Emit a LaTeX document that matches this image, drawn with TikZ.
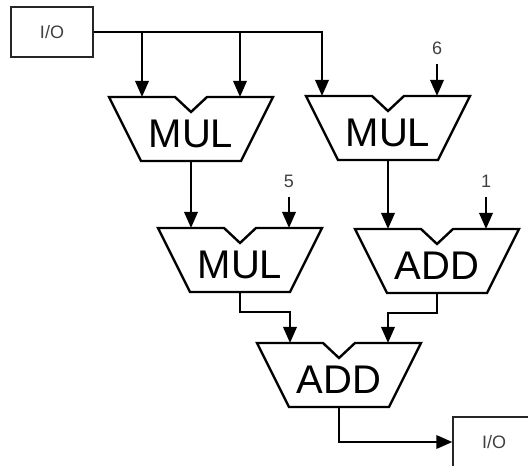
\documentclass[tikz,border=0pt]{standalone}
\usepackage{fontspec}
\setmainfont{Liberation Sans}
\usepackage{tikz}
\usetikzlibrary{arrows.meta,positioning,calc}

\tikzset{
  alu/.pic={
    \draw[line width=1.8pt, line join=miter] (-82,0) -- (-16,0) -- (0,15) -- (16,0) -- (82,0) -- (50,64) -- (-50,64) -- cycle;
    \node[font=\fontsize{30}{30}\selectfont, inner sep=0pt] (-op) at (0,37) {#1};
    \coordinate (-l) at (-49,0);
    \coordinate (-r) at (49,0);
    \coordinate (-o) at (0,64);
  }
}

\begin{document}
\begin{tikzpicture}[x=0.75pt, y=-0.75pt, >={Triangle[length=12pt,width=10pt]},
  iobox/.style={draw=black!85, line width=1pt, minimum width=61.5pt, minimum height=37.5pt, text=black!75, font=\fontsize{13.5}{14}\selectfont},
  const/.style={text=black!75, font=\fontsize{13.5}{14}\selectfont, inner sep=2pt, outer sep=5pt},
  wire/.style={line width=1.8pt}]
  \useasboundingbox (0,0) rectangle (528,466);
  \node[iobox](in) at (52,32){I/O};
  \node[iobox](out) at (494,442){I/O};
  \pic (mul1) at (191,97) {alu=MUL};
  \pic (mul2) at (388,96) {alu=MUL};
  \pic (mul3) at (240,228) {alu=MUL};
  \pic (add1) at (437,229) {alu=ADD};
  \pic (add2) at (339,343) {alu=ADD};
  \node[const](k6) at (437,48){6};
  \node[const](k5) at (289,181){5};
  \node[const](k1) at (486,181){1};
  \draw[wire,->] (in.east) -| (mul1-l);
  \draw[wire,->] (in.east) -| (mul1-r);
  \draw[wire,->] (in.east) -| ([xshift=-12.75pt]mul2-l);
  \foreach \a/\b in {k6/mul2-r,k5/mul3-r,k1/add1-r,mul1-o/mul3-l,mul2-o/add1-l}{\draw[wire,->](\a)--(\b);}
  \draw[wire,->] (mul3-o) -- ++(0,20) -| (add2-l);
  \draw[wire,->] (add1-o) -- ++(0,20) -| (add2-r);
  \draw[wire,->] (add2-o) |- (out);
\end{tikzpicture}
\end{document}
